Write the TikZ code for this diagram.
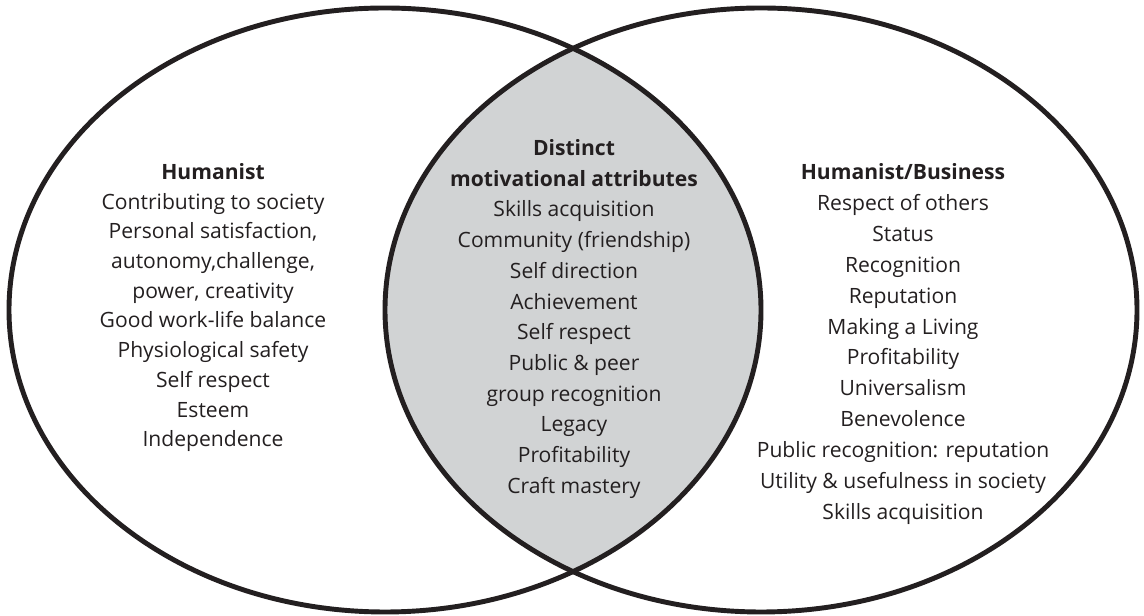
\documentclass[tikz,border=0pt]{standalone}
\usepackage{fontspec}
\setmainfont{Open Sans}
\definecolor{ink}{RGB}{35,31,32}
\definecolor{lens}{RGB}{209,211,212}
\begin{document}
\begin{tikzpicture} [x=0.025cm,y=0.025cm,font=\fontsize{15}{18}\selectfont,
		line/.style={draw=ink,line width=3.5pt},
		every node/.style={anchor=base,text=ink,inner sep=0pt}]
		\useasboundingbox (0,0) rectangle (1144,616);
		% shaded overlap
		\begin{scope}
			\clip (385,306) ellipse [x radius=376,y radius=302];
			\fill [lens] (761,306) ellipse [x radius=376,y radius=302];
		\end{scope}
		\draw [line] (385,306) ellipse [x radius=376,y radius=302];
		\draw [line] (761,306) ellipse [x radius=376,y radius=302];
		% left set
		\node (hum) at (213,436) {\textbf{Humanist}};
		\node (hum1) at (213,406) {Contributing to society};
		\node (hum2) at (213,377) {Personal satisfaction,};
		\node (hum3) at (213,347) {autonomy,challenge,};
		\node (hum4) at (213,317) {power, creativity};
		\node (hum5) at (213,288) {Good work-life balance};
		\node (hum6) at (213,258) {Physiological safety};
		\node (hum7) at (213,228) {Self respect};
		\node (hum8) at (213,198) {Esteem};
		\node (hum9) at (213,169) {Independence};
		% overlap
		\node (mid) at (574,460) {\textbf{Distinct}};
		\node (mid0) at (574,429) {\textbf{motivational attributes}};
		\node (mid1) at (574,399) {Skills acquisition};
		\node (mid2) at (574,368) {Community (friendship)};
		\node (mid3) at (574,337) {Self direction};
		\node (mid4) at (574,306) {Achievement};
		\node (mid5) at (574,276) {Self respect};
		\node (mid6) at (574,245) {Public \& peer};
		\node (mid7) at (574,214) {group recognition};
		\node (mid8) at (574,184) {Legacy};
		\node (mid9) at (574,153) {Profitability};
		\node (mid10) at (574,122) {Craft mastery};
		% right set
		\node (bus) at (903,436) {\textbf{Humanist/Business}};
		\node (bus1) at (903,405) {Respect of others};
		\node (bus2) at (903,374) {Status};
		\node (bus3) at (903,343) {Recognition};
		\node (bus4) at (903,312) {Reputation};
		\node (bus5) at (903,281) {Making a Living};
		\node (bus6) at (903,251) {Profitability};
		\node (bus7) at (903,220) {Universalism};
		\node (bus8) at (903,189) {Benevolence};
		\node (bus9) at (903,158) {Public recognition: reputation};
		\node (bus10) at (903,127) {Utility \& usefulness in society};
		\node (bus11) at (903,96) {Skills acquisition};
	\end{tikzpicture}
\end{document}
